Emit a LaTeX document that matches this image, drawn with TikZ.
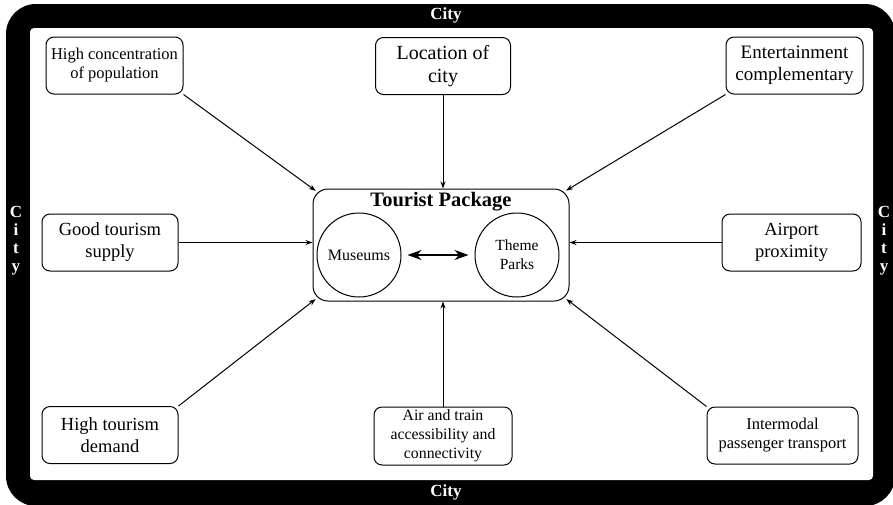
\documentclass[tikz,border=0pt]{standalone}
\usepackage{fontspec}
\setmainfont{Liberation Serif}
\usetikzlibrary{arrows.meta}
\tikzset{
  factor/.style={draw, rounded corners=8pt, line width=1pt, fill=white, minimum width=137pt, minimum height=57pt, align=center, inner sep=0pt, font=\fontsize{16.5}{19}\selectfont},
  bigfactor/.style={factor, font=\fontsize{19}{22}\selectfont},
  attraction/.style={draw, circle, line width=1pt, minimum size=84pt, align=center, inner sep=0pt, font=\fontsize{16}{19}\selectfont},
  citylabel/.style={text=white, font=\bfseries\fontsize{17}{18}\selectfont, align=center, inner sep=0pt},
  influence/.style={-{Stealth[length=7pt,width=5pt]}, line width=1pt},
  swap/.style={{Stealth[length=14pt,width=10pt]}-{Stealth[length=14pt,width=10pt]}, line width=2pt}
}
\begin{document}
\begin{tikzpicture}[x=1pt,y=-1pt]
  \useasboundingbox (0,0) rectangle (893,504);
  % city frame
  \fill[black, rounded corners=30pt] (6,4) rectangle (895,506);
  \fill[white, rounded corners=4pt] (30,28) rectangle (873,480);
  \node[citylabel] (citytop) at (446,15) {City};
  \node[citylabel] (citybottom) at (446,492) {City};
  \node[citylabel] (cityleft) at (16,241) {C\\i\\t\\y};
  \node[citylabel] (cityright) at (884,241) {C\\i\\t\\y};

  % tourist package
  \node[draw, rounded corners=15pt, line width=1pt, minimum width=256pt, minimum height=112pt] (pkg) at (441,245) {};
  \node[font=\bfseries\fontsize{20.5}{22}\selectfont, inner sep=0pt] (pkgtitle) at (441,202) {Tourist Package};
  \node[attraction] (museums) at (359,255) {Museums};
  \node[attraction, font=\fontsize{15.5}{19}\selectfont] (parks) at (517,255) {Theme\\Parks};
  \draw[swap, shorten <=6pt, shorten >=6pt] (museums) -- (parks);

  % factors
  \node[factor] (population) at (114.5,65.5) {High concentration\\of population};
  \node[factor, font=\fontsize{20}{23}\selectfont, minimum width=135pt] (location) at (443,66) {Location of\\city};
  \node[bigfactor] (entertainment) at (794.5,65.5) {Entertainment\\complementary};
  \node[bigfactor, font=\fontsize{18.5}{22}\selectfont, minimum width=136pt] (supply) at (110,242.5) {Good tourism\\supply};
  \node[bigfactor, font=\fontsize{18.5}{22}\selectfont, minimum width=139pt] (airport) at (791.5,242.5) {Airport\\proximity};
  \node[bigfactor, font=\fontsize{18.5}{22}\selectfont, minimum width=136pt] (demand) at (110,435) {High tourism\\demand};
  \node[factor, font=\fontsize{15.8}{19}\selectfont, minimum width=138pt, minimum height=58pt] (access) at (443,436) {Air and train\\accessibility and\\connectivity};
  \node[factor, minimum width=151pt] (intermodal) at (782.5,435.5) {Intermodal\\passenger transport};

  \draw[influence, shorten >=-4pt] (population.south east) -- (pkg.north west);
  \draw[influence] (location.south) -- (pkg.north -| location.south);
  \draw[influence, shorten >=-4pt] (entertainment.south west) -- (pkg.north east);
  \draw[influence] (supply.east) -- (pkg.west |- supply.east);
  \draw[influence] (airport.west) -- (pkg.east |- airport.west);
  \draw[influence, shorten >=-4pt] (demand.north east) -- (pkg.south west);
  \draw[influence] (access.north) -- (pkg.south -| access.north);
  \draw[influence, shorten >=-4pt] (intermodal.north west) -- (pkg.south east);
\end{tikzpicture}
\end{document}
